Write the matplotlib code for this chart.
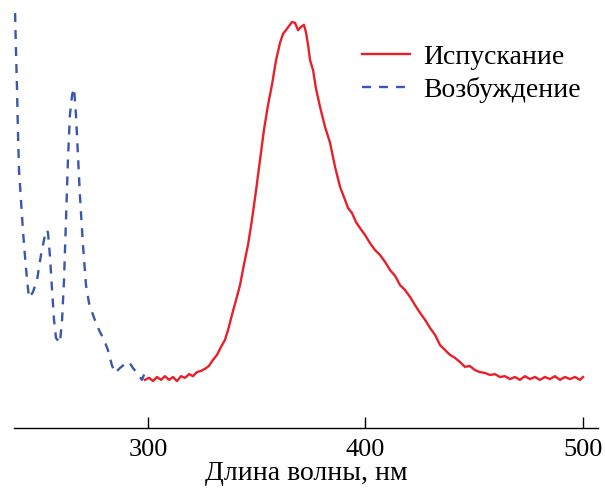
import matplotlib
matplotlib.use('Agg')
import matplotlib.pyplot as plt

plt.rcParams['font.family'] = ['Liberation Serif', 'DejaVu Serif']

# emission spectrum (nm, relative intensity)
em_nm = [298.6, 300.5, 302.3, 304.1, 306.0, 307.8, 309.7, 311.5, 313.3, 315.2,
         317.0, 318.9, 320.7, 322.5, 324.4, 326.2, 328.0, 329.9, 331.7, 333.6,
         335.4, 336.8, 338.6, 340.5, 342.3, 344.1, 346.0, 347.8, 349.7, 351.5,
         353.3, 355.2, 357.0, 358.9, 360.7, 362.1, 363.4, 364.8, 366.2, 367.6,
         369.0, 370.3, 371.7, 372.6, 373.6, 374.5, 375.9, 377.2, 379.1, 381.4,
         383.7, 386.0, 388.3, 390.6, 392.0, 393.8, 395.6, 397.5, 399.8, 402.1,
         404.4, 406.7, 409.0, 411.3, 413.6, 415.9, 418.2, 420.5, 422.8, 425.1,
         427.4, 429.7, 432.0, 434.3, 436.6, 438.9, 441.1, 443.4, 445.7, 448.0,
         450.3, 452.6, 454.9, 457.2, 459.5, 461.8, 464.1, 466.4, 468.7, 471.0,
         473.3, 475.6, 477.9, 480.2, 482.5, 484.8, 487.1, 489.4, 491.7, 494.0,
         496.3, 498.6, 500.0]
em_int = [11.8, 12.3, 11.5, 12.5, 11.8, 12.7, 11.8, 12.5, 11.5, 12.7,
          12.3, 13.2, 12.7, 13.7, 14.0, 14.5, 15.2, 16.7, 17.9, 19.9,
          21.6, 24.0, 27.7, 31.4, 35.0, 40.0, 44.9, 51.0, 58.3, 65.7,
          73.0, 79.2, 84.1, 90.2, 94.4, 96.6, 97.5, 98.5, 99.5, 99.3,
          97.5, 98.3, 98.8, 97.1, 93.9, 90.2, 87.7, 83.3, 78.7, 73.8,
          69.9, 64.0, 59.1, 55.9, 53.9, 52.7, 50.5, 49.0, 47.3, 45.3,
          43.6, 42.4, 40.7, 38.7, 37.3, 35.0, 33.8, 32.1, 30.1, 28.2,
          26.5, 24.5, 22.8, 20.3, 19.1, 17.9, 17.2, 16.2, 15.0, 15.2,
          14.2, 13.7, 13.5, 13.0, 13.2, 12.5, 12.7, 12.0, 12.5, 11.8,
          12.7, 12.0, 12.5, 11.8, 12.5, 12.0, 12.7, 11.8, 12.5, 12.0,
          12.5, 11.8, 12.5]

# excitation spectrum
ex_nm = [238.9, 239.3, 239.8, 240.2, 240.7, 241.6, 242.5, 243.4, 244.4, 245.3,
         247.1, 249.0, 250.8, 252.2, 253.1, 254.0, 254.9, 255.9, 256.8, 257.7,
         259.5, 260.5, 261.4, 262.3, 263.2, 264.1, 265.1, 266.0, 266.9, 267.8,
         268.7, 270.1, 271.5, 272.9, 275.2, 277.5, 279.8, 281.6, 283.4, 284.8,
         287.1, 289.4, 291.3, 293.1, 295.4, 297.2, 299.1]
ex_int = [101.7, 92.6, 82.8, 73.0, 63.2, 55.9, 48.5, 42.4, 36.3, 31.9,
          33.3, 36.3, 42.4, 46.1, 48.5, 48.0, 42.4, 33.8, 26.5, 22.1,
          20.8, 26.5, 36.3, 51.0, 65.7, 76.7, 81.6, 83.3, 76.7, 66.9,
          57.1, 44.9, 35.0, 30.6, 27.0, 24.0, 21.6, 19.1, 15.4, 13.5,
          14.7, 15.7, 16.2, 14.7, 13.2, 11.8, 14.2]

xticks = [300, 400, 500]

fig = plt.figure(figsize=(6.05, 4.9), dpi=100)
ax = fig.add_axes([14 / 605, 62 / 490, 584 / 605, 428 / 490])

ax.plot(em_nm, em_int, color='#e8202a', lw=1.7, label='Испускание')
ax.plot(ex_nm, ex_int, color='#3a57ad', lw=1.7, dashes=(3.8, 3.4),
        label='Возбуждение')

ax.set_xlim(238.4, 506.9)
ax.set_ylim(0, 104.9)
ax.set_xticks(xticks)
ax.set_yticks([])
for s in ['top', 'right', 'left']:
    ax.spines[s].set_visible(False)
ax.spines['bottom'].set_linewidth(1.0)
ax.tick_params(axis='x', direction='in', length=8, width=1,
               labelsize=19, pad=8)
ax.set_xlabel('Длина волны, нм', fontsize=20, labelpad=0)

ax.legend(loc='upper left', frameon=False, fontsize=20,
          bbox_to_anchor=(0.596, 0.897), borderaxespad=0, borderpad=0,
          handlelength=1.73, handletextpad=0.47, labelspacing=0.26)

fig.savefig('out.png', dpi=100)
